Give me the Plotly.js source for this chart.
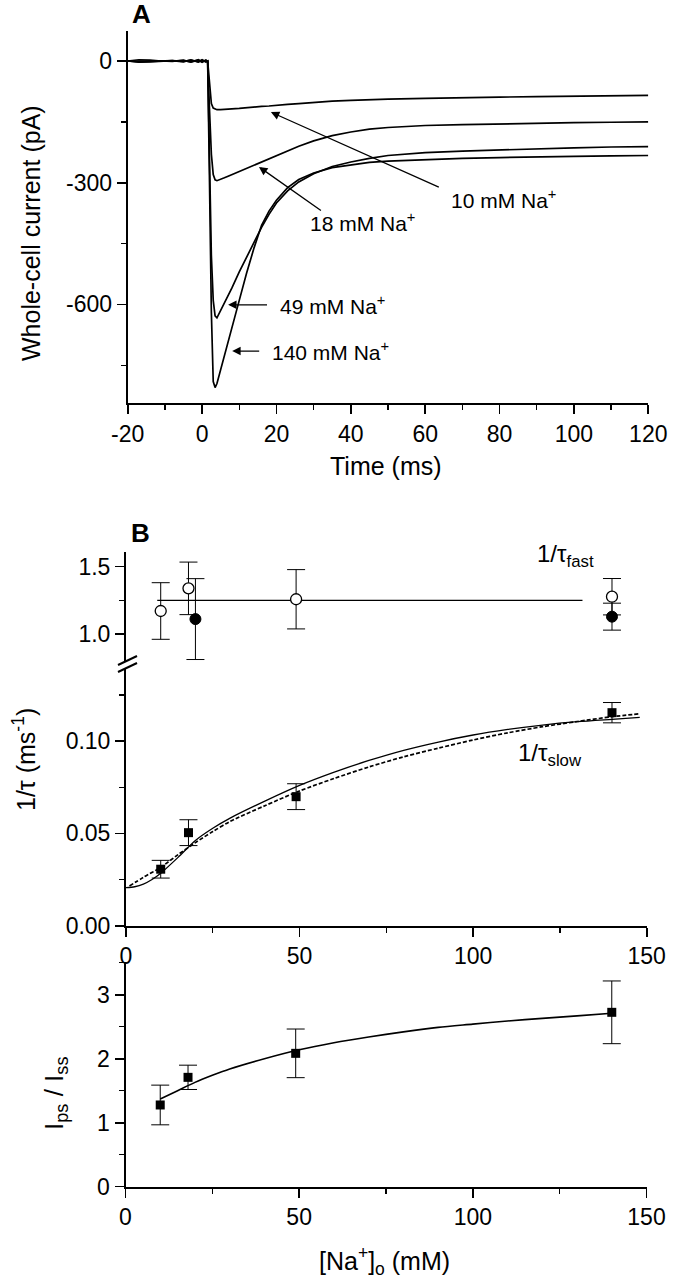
<!DOCTYPE html>
<html>
<head>
<meta charset="utf-8">
<script src="https://cdn.plot.ly/plotly-3.0.1.min.js"></script>
<style>html,body{margin:0;padding:0;background:#fff;}#chart{width:673px;height:1280px;}</style>
</head>
<body>
<div id="chart"></div>
<script>
// ---------- Panel A: whole-cell currents ----------
const timeMs = [-20,-17,-14,-11,-8,-5,-3,-1,0,1,1.5,2,2.5,3,3.5,4,5,6,7,8,10,12,14,16,18,20,23,26,30,35,40,45,50,60,70,80,90,100,110,120];
const cur10  = [0,3,2,0,0,1,-2,3,-2,2,0,-60,-105,-116,-119,-120,-120,-119,-119,-118,-117,-115,-114,-112,-111,-110,-107,-105,-102,-99,-97,-95,-94,-92,-90,-89,-88,-87,-86,-85];
const cur18  = [0,-3,-2,0,1,-2,3,-3,2,-2,0,-120,-230,-280,-293,-295,-292,-288,-284,-280,-272,-265,-257,-249,-240,-232,-221,-210,-197,-184,-175,-168,-164,-159,-157,-155,-154,-152,-151,-150];
const cur49  = [0,0,1,0,-1,2,-3,2,-3,2,0,-250,-480,-590,-628,-633,-615,-598,-580,-560,-520,-482,-445,-410,-378,-350,-320,-298,-278,-260,-249,-240,-233,-226,-222,-219,-216,-214,-212,-211];
const cur140 = [0,-2,-1,0,1,-1,2,-2,3,-2,0,-300,-620,-790,-805,-795,-760,-728,-695,-660,-590,-522,-460,-405,-370,-343,-312,-292,-276,-263,-256,-250,-247,-243,-240,-238,-236,-235,-234,-233];
const timeTicks = [-20,0,20,40,60,80,100,120];
const timeTickText = ['-20','0','20','40','60','80','100','120'];
const curTicks = [-600,-300,0];
const curTickText = ['-600','-300','0'];

// ---------- Panel B: 1/tau vs [Na+]o ----------
const naConc = [10,18,49,140];
const fastOpen = [1.171,1.339,1.258,1.277];
const fastOpenErr = [0.21,0.195,0.22,0.135];
const fastFilledX = [20,140];
const fastFilled = [1.111,1.129];
const fastFilledErr = [0.30,0.10];
const fastFitX = [9,131.5];
const fastFitY = [1.25,1.25];
const slowVals = [0.0306,0.0504,0.0699,0.1154];
const slowErr = [0.0048,0.007,0.007,0.0055];
const slowFitX = [0,2.5,5,7.5,10,15,20,25,30,40,50,60,70,80,90,100,110,120,130,140,148];
const slowFitSolid = [0.0206,0.0211,0.0225,0.0250,0.0284,0.0370,0.0462,0.0528,0.0583,0.0675,0.0760,0.0832,0.0895,0.0950,0.0995,0.1033,0.1063,0.1087,0.1105,0.1118,0.1128];
const slowFitDashX = [1,5,10,15,20,25,30,40,50,60,70,80,90,100,110,120,130,140,148];
const slowFitDash = [0.0215,0.0262,0.0316,0.0385,0.0450,0.0510,0.0565,0.0650,0.0730,0.0798,0.0860,0.0915,0.0962,0.1006,0.1045,0.1078,0.1106,0.1132,0.1148];

// ---------- Panel C: Ips/Iss ----------
const ratioVals = [1.277,1.709,2.084,2.725];
const ratioErr = [0.31,0.19,0.38,0.49];
const ratioFitX = [10,15,20,25,30,40,50,60,70,80,90,100,110,120,130,140];
const ratioFitY = [1.37,1.50,1.63,1.74,1.84,2.00,2.14,2.25,2.34,2.42,2.49,2.54,2.59,2.63,2.67,2.71];

const FONT = 'Liberation Sans, Arial, Helvetica, sans-serif';
const K = '#000';
const W = 673, H = 1280;
const px = v => v / W;
const py = v => 1 - v / H;

const traceLine = (y) => ({x: timeMs, y: y, xaxis:'x', yaxis:'y', mode:'lines', line:{color:K, width:1.7}, hoverinfo:'skip', showlegend:false});
const errStyle = (arr) => ({type:'data', array: arr, visible:true, color:K, thickness:1, width:9});

const data = [
  traceLine(cur10), traceLine(cur18), traceLine(cur49), traceLine(cur140),
  {x: fastFitX, y: fastFitY, xaxis:'x2', yaxis:'y3', mode:'lines', line:{color:K, width:1.3}, showlegend:false},
  {x: naConc, y: fastOpen, error_y: errStyle(fastOpenErr), xaxis:'x2', yaxis:'y3', mode:'markers',
   marker:{symbol:'circle', size:11, color:'#fff', line:{color:K, width:1.3}}, showlegend:false, cliponaxis:false},
  {x: fastFilledX, y: fastFilled, error_y: errStyle(fastFilledErr), xaxis:'x2', yaxis:'y3', mode:'markers',
   marker:{symbol:'circle', size:11, color:K, line:{color:K, width:1}}, showlegend:false, cliponaxis:false},
  {x: slowFitX, y: slowFitSolid, xaxis:'x2', yaxis:'y2', mode:'lines', line:{color:K, width:1.3, shape:'spline', smoothing:0.8}, showlegend:false},
  {x: slowFitDashX, y: slowFitDash, xaxis:'x2', yaxis:'y2', mode:'lines', line:{color:K, width:1.7, dash:'4px,2px', shape:'spline', smoothing:0.8}, showlegend:false},
  {x: naConc, y: slowVals, error_y: errStyle(slowErr), xaxis:'x2', yaxis:'y2', mode:'markers',
   marker:{symbol:'square', size:9, color:K}, showlegend:false, cliponaxis:false},
  {x: ratioFitX, y: ratioFitY, xaxis:'x3', yaxis:'y4', mode:'lines', line:{color:K, width:1.6, shape:'spline', smoothing:0.8}, showlegend:false},
  {x: naConc, y: ratioVals, error_y: errStyle(ratioErr), xaxis:'x3', yaxis:'y4', mode:'markers',
   marker:{symbol:'square', size:9, color:K}, showlegend:false, cliponaxis:false}
];

const axBase = {
  showgrid:false, zeroline:false, showline:true, linecolor:K, linewidth:2,
  ticks:'outside', ticklen:9, tickwidth:1.6, tickcolor:K,
  tickfont:{family:FONT, size:23, color:K}, fixedrange:true
};
const minor = (d) => ({dtick:d, ticks:'outside', ticklen:5, tickwidth:1.4, tickcolor:K, showgrid:false});

const layout = {
  width:W, height:H, margin:{l:0,r:0,t:0,b:0},
  paper_bgcolor:'#fff', plot_bgcolor:'rgba(0,0,0,0)', showlegend:false,
  font:{family:FONT, color:K},
  xaxis: Object.assign({}, axBase, {domain:[px(127.7), px(648.3)], range:[-20,120], anchor:'y', tickmode:'array', tickvals:timeTicks, ticktext:timeTickText, minor:minor(10)}),
  yaxis: Object.assign({}, axBase, {domain:[py(403.3), py(31)], range:[-843.7,73.9], anchor:'x', tickmode:'array', tickvals:curTicks, ticktext:curTickText, minor:minor(150)}),
  xaxis2: Object.assign({}, axBase, {domain:[px(126), px(646.7)], range:[0,150], anchor:'y2', tick0:0, dtick:50, minor:minor(25)}),
  yaxis2: Object.assign({}, axBase, {domain:[py(925.7), py(668)], range:[0,0.1396], anchor:'x2', tick0:0, dtick:0.05, tickformat:'.2f', minor:minor(0.025)}),
  yaxis3: Object.assign({}, axBase, {domain:[py(661), py(551.7)], range:[0.80,1.611], anchor:'x2', tick0:0, dtick:0.5, tickformat:'.1f', minor:minor(0.25)}),
  xaxis3: Object.assign({}, axBase, {domain:[px(125.5), px(646.5)], range:[0,150], anchor:'y4', tick0:0, dtick:50, minor:minor(25)}),
  yaxis4: Object.assign({}, axBase, {domain:[py(1186.7), py(961.7)], range:[0,3.516], anchor:'x3', tick0:0, dtick:1, minor:minor(0.5)}),
  shapes: [
    {type:'line', xref:'paper', yref:'paper', x0:px(118), y0:py(665), x1:px(137), y1:py(656), line:{color:K, width:2}},
    {type:'line', xref:'paper', yref:'paper', x0:px(118), y0:py(672), x1:px(137), y1:py(663), line:{color:K, width:2}}
  ],
  annotations: []
};

const A = layout.annotations;
const txt = (text, x, y, size, opts) => Object.assign({text:text, x:x, y:y, xref:'paper', yref:'paper', showarrow:false,
  font:{family:FONT, size:size, color:K}, xanchor:'center', yanchor:'middle'}, opts || {});

// panel labels
A.push(txt('<b>A</b>', px(141), py(14), 26));
A.push(txt('<b>B</b>', px(140), py(533), 26));
// axis titles
A.push(txt('Whole-cell current (pA)', px(31), py(233), 25, {textangle:-90}));
A.push(txt('Time (ms)', px(386), py(466), 25));
A.push(txt('1/τ (ms<sup>-1</sup>)', px(24), py(760), 25, {textangle:-90}));
A.push(txt('I<sub>ps</sub> / I<sub>ss</sub>', px(55), py(1093), 26, {textangle:-90}));
A.push(txt('[Na<sup>+</sup>]<sub>o</sub> (mM)', px(384), py(1261), 25));
// panel B labels
A.push(txt('1/τ<sub>fast</sub>', px(565), py(555), 24));
A.push(txt('1/τ<sub>slow</sub>', px(550), py(754), 24));

// panel A labels with arrows (label at tail, arrow to the trace)
const lab = (text, x, y) => ({text:text, x:x, y:y, xref:'x', yref:'y', showarrow:false, xanchor:'left', yanchor:'middle',
  font:{family:FONT, size:21, color:K}});
A.push(lab('10 mM Na<sup>+</sup>', 66.4, -340));
A.push(lab('18 mM Na<sup>+</sup>', 28.5, -397));
A.push(lab('49 mM Na<sup>+</sup>', 20.4, -601));
A.push(lab('140 mM Na<sup>+</sup>', 18.3, -715));
const arr = (x, y, ax, ay) => ({text:' ', x:x, y:y, ax:ax, ay:ay, xref:'x', yref:'y', axref:'x', ayref:'y', showarrow:true,
  arrowhead:2, arrowsize:1.3, arrowwidth:1.3, arrowcolor:K, standoff:0, font:{size:2}});
A.push(arr(18.5, -126, 64.2, -313));
A.push(arr(15.3, -261, 32.5, -372));
A.push(arr(7.0, -601, 18.0, -601));
A.push(arr(8.1, -715, 15.9, -715));

Plotly.newPlot('chart', data, layout, {staticPlot:true, displayModeBar:false});
</script>
</body>
</html>
